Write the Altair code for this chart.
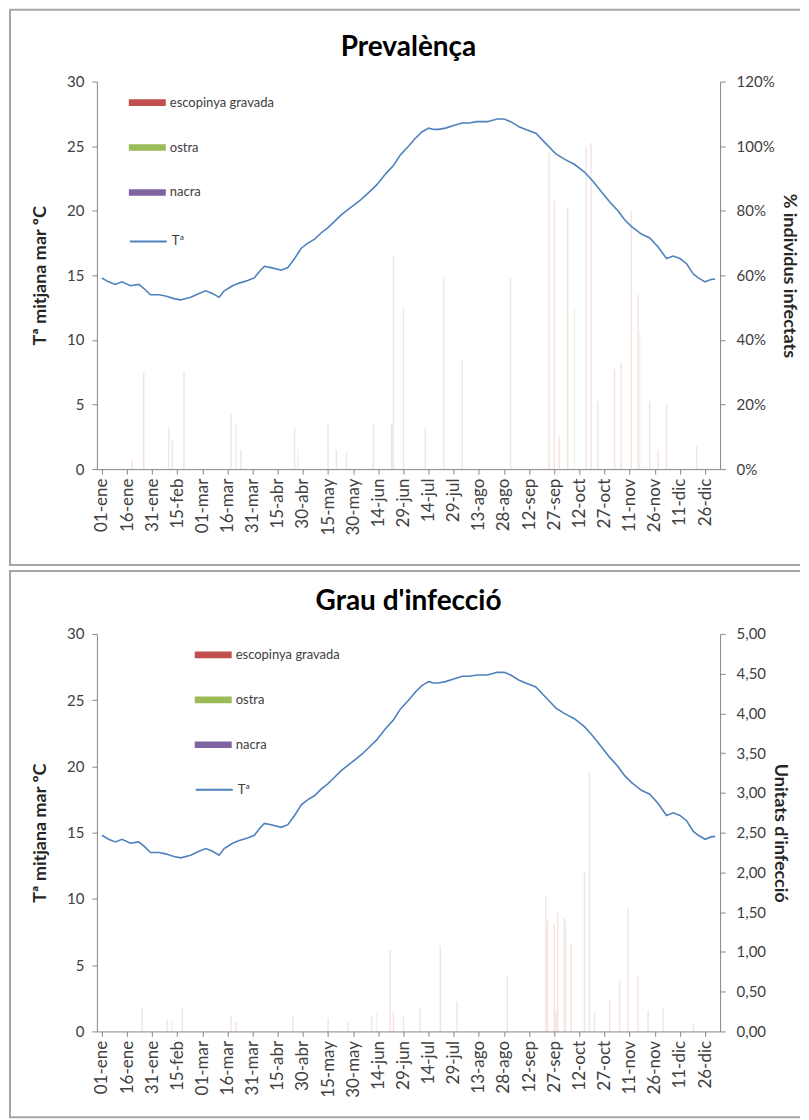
import altair as alt
import pandas as pd

# ---- data ----
tick_days = list(range(0, 361, 15))
tick_labels = ["01-ene", "16-ene", "31-ene", "15-feb", "01-mar", "16-mar", "31-mar",
               "15-abr", "30-abr", "15-may", "30-may", "14-jun", "29-jun", "14-jul",
               "29-jul", "13-ago", "28-ago", "12-sep", "27-sep", "12-oct", "27-oct",
               "11-nov", "26-nov", "11-dic", "26-dic"]

species = ["escopinya gravada", "ostra", "nacra"]
species_colors = ["#C0504D", "#9BBB59", "#8064A2"]
temp_name = "Tª"
temp_color = "#4F81BD"

temp_day = [0, 4, 8, 12, 17, 22, 25, 29, 34, 38, 43, 47, 53, 58, 62, 66, 70, 73, 78, 82,
            87, 91, 94, 97, 101, 107, 111, 115, 119, 123, 127, 131, 135, 139, 143, 147,
            151, 155, 160, 164, 169, 174, 178, 183, 187, 191, 195, 198, 201, 205, 210,
            215, 219, 224, 230, 236, 240, 244, 249, 253, 259, 265, 271, 276, 282, 288,
            293, 298, 303, 308, 312, 316, 322, 327, 332, 337, 341, 345, 349, 353, 356,
            360, 364, 366]
temp_val = [14.8, 14.5, 14.3, 14.5, 14.2, 14.3, 14.0, 13.5, 13.5, 13.4, 13.2, 13.1, 13.3,
            13.6, 13.8, 13.6, 13.3, 13.8, 14.2, 14.4, 14.6, 14.8, 15.3, 15.7, 15.6, 15.4,
            15.6, 16.3, 17.1, 17.5, 17.8, 18.3, 18.7, 19.2, 19.7, 20.1, 20.5, 20.9, 21.5,
            22.0, 22.8, 23.5, 24.3, 25.0, 25.6, 26.1, 26.4, 26.3, 26.3, 26.4, 26.6, 26.8,
            26.8, 26.9, 26.9, 27.1, 27.1, 26.9, 26.5, 26.3, 26.0, 25.2, 24.4, 24.0, 23.6,
            23.0, 22.3, 21.5, 20.7, 20.0, 19.3, 18.8, 18.2, 17.9, 17.2, 16.3, 16.5, 16.3,
            15.9, 15.1, 14.8, 14.5, 14.7, 14.7]

# Prevalence (% infected individuals)
prev_day = [18, 25, 40, 42, 49, 77, 80, 83, 115, 117, 135, 140, 146, 162, 173, 174, 180,
            193, 204, 215, 244, 267, 270, 273, 278, 282, 289, 292, 296, 306, 310, 316,
            320, 321, 327, 332, 337, 355]
prev_val = [3, 30, 13, 9, 30, 17, 14, 6, 13, 6, 14, 6, 5, 14, 14, 66, 50,
            13, 59, 34, 59, 98, 83, 10, 81, 50, 100, 101, 21, 31, 33, 80,
            54, 42, 21, 6, 20, 7]
prev_sp = ["escopinya gravada", "escopinya gravada", "nacra", "escopinya gravada",
           "escopinya gravada", "escopinya gravada", "ostra", "escopinya gravada",
           "escopinya gravada", "ostra", "nacra", "escopinya gravada", "nacra",
           "escopinya gravada", "escopinya gravada", "nacra", "nacra",
           "escopinya gravada", "nacra", "nacra", "nacra", "escopinya gravada",
           "escopinya gravada", "escopinya gravada", "escopinya gravada", "ostra",
           "nacra", "escopinya gravada", "escopinya gravada", "escopinya gravada",
           "escopinya gravada", "escopinya gravada", "escopinya gravada", "ostra",
           "escopinya gravada", "escopinya gravada", "escopinya gravada", "escopinya gravada"]

# Degree of infection (infection units)
grau_day = [24, 39, 42, 48, 77, 80, 114, 135, 147, 161, 164, 172, 174, 180, 190, 202, 212,
            242, 265, 266, 270, 271, 272, 276, 277, 280, 288, 291, 294, 303, 309, 314,
            320, 326, 335, 353]
grau_val = [0.30, 0.15, 0.15, 0.30, 0.20, 0.12, 0.20, 0.17, 0.12, 0.20, 0.25, 1.02, 0.25,
            0.20, 0.30, 1.08, 0.38, 0.70, 1.71, 1.39, 1.36, 0.26, 1.50, 1.43, 1.38, 1.10,
            2.00, 3.25, 0.23, 0.39, 0.64, 1.56, 0.70, 0.26, 0.30, 0.10]
grau_sp = ["escopinya gravada", "escopinya gravada", "ostra", "escopinya gravada",
           "escopinya gravada", "escopinya gravada", "escopinya gravada", "escopinya gravada",
           "nacra", "escopinya gravada", "ostra", "escopinya gravada", "escopinya gravada",
           "nacra", "escopinya gravada", "escopinya gravada", "nacra", "escopinya gravada",
           "escopinya gravada", "escopinya gravada", "escopinya gravada", "escopinya gravada",
           "escopinya gravada", "escopinya gravada", "ostra", "escopinya gravada",
           "nacra", "nacra", "escopinya gravada", "escopinya gravada", "escopinya gravada",
           "escopinya gravada", "escopinya gravada", "escopinya gravada", "nacra",
           "escopinya gravada"]

temp_df = pd.DataFrame({"day": temp_day, "T": temp_val, "s": temp_name})
prev_df = pd.DataFrame({"day": prev_day, "val": prev_val, "sp": prev_sp})
grau_df = pd.DataFrame({"day": grau_day, "val": grau_val, "sp": grau_sp})

FONT = "Lato"
FRAME = "#A6A6A6"
label_expr_x = "[" + ",".join("'%s'" % t for t in tick_labels) + "][round(datum.value/15)]"

W = 624
FX1 = -88          # frame left, relative to plot
FX2 = W + 80       # frame right, relative to plot


def x_enc():
    return alt.X("day:Q",
                 scale=alt.Scale(domain=[0, 366], nice=False, zero=False),
                 axis=alt.Axis(values=tick_days, labelExpr=label_expr_x, labelAngle=270,
                               title=None, labelFontSize=17, labelPadding=4, tickSize=5,
                               grid=False))


def frame_layers(fy1, fy2):
    base = alt.Chart(pd.DataFrame({"f": [0]}))
    top_line = base.mark_rule(color=FRAME, strokeWidth=2).encode(
        x=alt.value(FX1), x2=alt.value(FX2), y=alt.value(fy1))
    bot_line = base.mark_rule(color=FRAME, strokeWidth=2).encode(
        x=alt.value(FX1), x2=alt.value(FX2), y=alt.value(fy2))
    left_line = base.mark_rule(color=FRAME, strokeWidth=2).encode(
        x=alt.value(FX1 + 1), y=alt.value(fy1), y2=alt.value(fy2))
    return [top_line, bot_line, left_line]


def panel(title, bars_df, right_title, right_max, right_values, right_label_expr,
          height, leg_x, leg_y, leg_y2, frame_y, frame_y2, title_offset):
    bars = alt.Chart(bars_df).mark_bar(size=1.5, fillOpacity=0.16).encode(
        x=x_enc(),
        y=alt.Y("val:Q", scale=alt.Scale(domain=[0, right_max], nice=False),
                axis=alt.Axis(orient="right", values=right_values,
                              labelExpr=right_label_expr, title=right_title,
                              titleFontSize=18, titleFontWeight="bold",
                              titlePadding=5, labelFontSize=15, labelPadding=11,
                              tickSize=5, grid=False)),
        fill=alt.Fill("sp:N", scale=alt.Scale(domain=species, range=species_colors),
                      legend=alt.Legend(orient="none", legendX=leg_x, legendY=leg_y,
                                        title=None, padding=0,
                                        symbolType="M-1,-0.18H1V0.18H-1Z",
                                        symbolSize=1369, symbolOpacity=1,
                                        symbolStrokeWidth=0, rowPadding=19,
                                        labelFontSize=13, labelOffset=4,
                                        labelColor="#404040")),
    )

    line = alt.Chart(temp_df).mark_line(strokeWidth=1.6).encode(
        x=x_enc(),
        y=alt.Y("T:Q", scale=alt.Scale(domain=[0, 30], nice=False),
                axis=alt.Axis(orient="left", values=[0, 5, 10, 15, 20, 25, 30],
                              title="Tª mitjana mar ºC", titleFontSize=18,
                              titleFontWeight="bold", titlePadding=17,
                              labelFontSize=15, labelPadding=8, tickSize=5,
                              grid=False)),
        stroke=alt.Stroke("s:N", scale=alt.Scale(domain=[temp_name], range=[temp_color]),
                          legend=alt.Legend(orient="none", legendX=leg_x, legendY=leg_y2,
                                            title=None, padding=0, symbolType="stroke",
                                            symbolSize=1369, symbolStrokeWidth=2,
                                            labelFontSize=13, labelOffset=4,
                                            labelColor="#404040")),
    )

    layers = frame_layers(frame_y, frame_y2) + [bars, line]
    return alt.layer(*layers).resolve_scale(y="independent").properties(
        width=W, height=height,
        title=alt.TitleParams(title, fontSize=28, font=FONT, fontWeight="bold",
                              anchor="middle", color="black", offset=title_offset),
    )


top = panel("Prevalènça", prev_df, "% individus infectats", 120,
            [0, 20, 40, 60, 80, 100, 120], "datum.value + '%'",
            388, 32, 2.5, 140.5, -72, 484, -53)

bottom = panel("Grau d'infecció", grau_df, "Unitats d'infecció", 5,
               [0, 0.5, 1, 1.5, 2, 2.5, 3, 3.5, 4, 4.5, 5],
               "replace(format(datum.value, '.2f'), '.', ',')",
               398, 98, 2.5, 136.5, -63, 484, -46)

chart = alt.vconcat(top, bottom, spacing=4, padding=0).resolve_scale(
    x="independent", fill="independent", stroke="independent"
).resolve_legend(fill="independent", stroke="independent").configure(
    font=FONT
).configure_axis(
    domainColor="#868686", tickColor="#868686", labelColor="#404040",
    titleColor="#262626", labelFont=FONT, titleFont=FONT
).configure_view(stroke=None)

chart.save("out.html", embed_options={"renderer": "svg", "actions": False})
